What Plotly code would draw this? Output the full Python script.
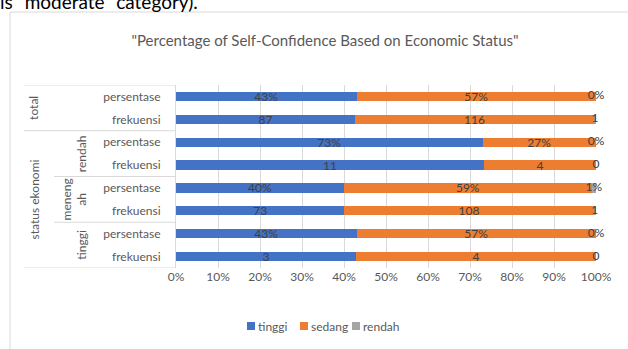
import plotly.graph_objects as go

# ---- data (rows listed bottom -> top) ----
row_labels = ["frekuensi", "persentase", "frekuensi", "persentase",
              "frekuensi", "persentase", "frekuensi", "persentase"]
row_is_pct = [False, True, False, True, False, True, False, True]
tinggi = [3, 43, 73, 40, 11, 73, 87, 43]
sedang = [4, 57, 108, 59, 4, 27, 116, 57]
rendah = [0, 0, 1, 1, 0, 0, 1, 0]
series_names = ["tinggi", "sedang", "rendah"]
series_colors = ["#4472C4", "#ED7D31", "#A5A5A5"]
x_ticks = [0, 0.1, 0.2, 0.3, 0.4, 0.5, 0.6, 0.7, 0.8, 0.9, 1.0]
title_text = '"Percentage of Self-Confidence Based on Economic Status"'

FONT = "Lato"
GRAY = "#595959"
LABEL = "#404040"

W, H = 628, 349
ML, MR, MT, MB = 176, 32, 85, 81
PW = W - ML - MR
PH = H - MT - MB


def px_x(px):
    return (px - ML) / PW


def px_y(py):
    return (H - MB - py) / PH


def fmt(v, pct):
    return f"{v}%" if pct else f"{v}"


ys = list(range(len(row_labels)))
series = [tinggi, sedang, rendah]

fig = go.Figure()
for name, vals, col in zip(series_names, series, series_colors):
    show_text = name != "rendah"
    fig.add_trace(go.Bar(
        y=ys, x=vals, name=name, orientation="h",
        marker=dict(color=col, line=dict(width=0)),
        width=0.4,
        text=[fmt(v, p) for v, p in zip(vals, row_is_pct)] if show_text else None,
        textposition="inside" if show_text else "none",
        insidetextanchor="middle",
        textangle=0,
        constraintext="none",
        textfont=dict(family=FONT, size=12, color=LABEL),
        showlegend=False,
        hoverinfo="skip",
    ))

# rendah labels placed at the centre of the (tiny) rendah segment
tot = [a + b + c for a, b, c in zip(tinggi, sedang, rendah)]
r_pos = [(a + b + c / 2) / t for a, b, c, t in zip(tinggi, sedang, rendah, tot)]
fig.add_trace(go.Scatter(
    x=r_pos, y=ys, mode="text",
    text=[fmt(v, p) for v, p in zip(rendah, row_is_pct)],
    textposition="middle center",
    textfont=dict(family=FONT, size=12, color=LABEL),
    showlegend=False, hoverinfo="skip", cliponaxis=False,
))

shapes = []
# chart frame
shapes.append(dict(type="rect", xref="paper", yref="paper",
                   x0=px_x(10), x1=px_x(700), y0=px_y(420), y1=px_y(12),
                   line=dict(color="#D9D9D9", width=1), layer="below"))
# multi-level category axis lines
LC = "#D9D9D9"
for yb, xs in [(7.5, 24), (5.5, 24), (3.5, 54), (1.5, 54), (-0.5, 24)]:
    shapes.append(dict(type="line", xref="paper", yref="y",
                       x0=px_x(xs), x1=px_x(176), y0=yb, y1=yb,
                       line=dict(color=LC, width=1)))

annotations = []
# outer level labels
for txt, xp, yc in [("total", 34, 6.5), ("status ekonomi", 34, 2.5),
                    ("rendah", 81.5, 4.5), ("meneng<br>ah", 74, 2.5),
                    ("tinggi", 81.5, 0.5)]:
    annotations.append(dict(text=txt, x=px_x(xp), y=yc, xref="paper", yref="y",
                            textangle=-90, showarrow=False,
                            xanchor="center", yanchor="middle",
                            font=dict(family=FONT, size=12, color=GRAY)))

# manual legend
leg_y = px_y(326)
for name, col, sq in zip(series_names, series_colors, [247, 300, 352]):
    shapes.append(dict(type="rect", xref="paper", yref="paper",
                       x0=px_x(sq), x1=px_x(sq + 8),
                       y0=px_y(330), y1=px_y(322),
                       fillcolor=col, line=dict(width=0)))
    annotations.append(dict(text=name, x=px_x(sq + 9), y=leg_y,
                            xref="paper", yref="paper", showarrow=False,
                            xanchor="left", yanchor="middle",
                            font=dict(family=FONT, size=12, color=GRAY)))

# fragment of document text above the chart (cut off at the top edge)
annotations.append(dict(text='is "moderate" category).', x=px_x(-2), y=px_y(15),
                        xref="paper", yref="paper", showarrow=False,
                        xanchor="left", yanchor="bottom",
                        font=dict(family=FONT, size=19, color="#000000")))

fig.update_layout(
    width=W, height=H,
    margin=dict(l=ML, r=MR, t=MT, b=MB),
    paper_bgcolor="white", plot_bgcolor="white",
    barmode="stack", barnorm="fraction",
    title=dict(text=title_text, x=325 / W, xanchor="center",
               y=1 - 41 / H, yanchor="middle",
               font=dict(family=FONT, size=15, color=GRAY)),
    xaxis=dict(range=[0, 1], tickvals=x_ticks, tickformat=".0%",
               showgrid=True, gridcolor="#D9D9D9", gridwidth=1,
               zeroline=False, showline=False, ticks="",
               tickfont=dict(family=FONT, size=12, color=GRAY)),
    yaxis=dict(range=[-0.5, 7.5], tickvals=ys, ticktext=row_labels,
               showgrid=False, zeroline=False,
               showline=True, linecolor=LC, linewidth=1,
               ticks="", ticklabelstandoff=12,
               tickfont=dict(family=FONT, size=12, color=GRAY)),
    shapes=shapes, annotations=annotations,
    showlegend=False,
)

fig.write_html("out.html", config={"displayModeBar": False},
               post_script="document.body.style.margin='0';document.body.style.overflow='hidden';")
